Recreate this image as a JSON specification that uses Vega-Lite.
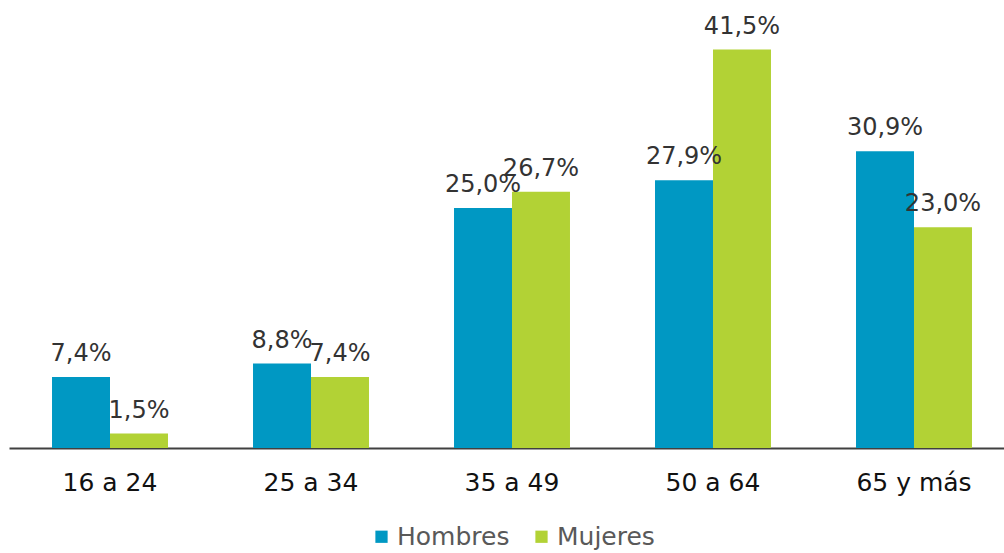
{
  "$schema": "https://vega.github.io/schema/vega-lite/v6.json",
  "autosize": {"type": "none"},
  "width": 995,
  "height": 432,
  "padding": {"left": 9, "top": 16, "right": 0, "bottom": 105},
  "background": "white",
  "config": {"view": {"stroke": null}, "font": "DejaVu Sans"},
  "data": {"values": [
    {"grupo": "16 a 24", "sexo": "Hombres", "valor": 7.4, "etiqueta": "7,4%"},
    {"grupo": "16 a 24", "sexo": "Mujeres", "valor": 1.5, "etiqueta": "1,5%"},
    {"grupo": "25 a 34", "sexo": "Hombres", "valor": 8.8, "etiqueta": "8,8%"},
    {"grupo": "25 a 34", "sexo": "Mujeres", "valor": 7.4, "etiqueta": "7,4%"},
    {"grupo": "35 a 49", "sexo": "Hombres", "valor": 25.0, "etiqueta": "25,0%"},
    {"grupo": "35 a 49", "sexo": "Mujeres", "valor": 26.7, "etiqueta": "26,7%"},
    {"grupo": "50 a 64", "sexo": "Hombres", "valor": 27.9, "etiqueta": "27,9%"},
    {"grupo": "50 a 64", "sexo": "Mujeres", "valor": 41.5, "etiqueta": "41,5%"},
    {"grupo": "65 y más", "sexo": "Hombres", "valor": 30.9, "etiqueta": "30,9%"},
    {"grupo": "65 y más", "sexo": "Mujeres", "valor": 23.0, "etiqueta": "23,0%"}
  ]},
  "encoding": {
    "x": {
      "field": "grupo", "type": "nominal", "sort": null,
      "scale": {"range": [0, 1006], "paddingInner": 0.423, "paddingOuter": 0.214},
      "axis": {
        "title": null, "labelAngle": 0, "ticks": false,
        "domainColor": "#404040", "domainWidth": 2,
        "labelFont": "DejaVu Sans", "labelFontSize": 25, "labelColor": "#111111",
        "labelPadding": 22
      }
    },
    "xOffset": {"field": "sexo", "type": "nominal", "scale": {"paddingInner": 0, "paddingOuter": 0}},
    "y": {
      "field": "valor", "type": "quantitative",
      "scale": {"domain": [0, 45], "nice": false},
      "axis": null
    }
  },
  "layer": [
    {
      "mark": {"type": "bar"},
      "encoding": {
        "color": {
          "field": "sexo", "type": "nominal",
          "scale": {"domain": ["Hombres", "Mujeres"], "range": ["#0098C3", "#B2D235"]},
          "legend": {
            "title": null, "orient": "none", "direction": "horizontal",
            "legendX": 360, "legendY": 508,
            "symbolType": "square", "symbolSize": 150, "symbolStrokeWidth": 0,
            "labelFont": "DejaVu Sans", "labelFontSize": 25, "labelColor": "#595959",
            "labelOffset": 3, "columnPadding": 19
          }
        }
      }
    },
    {
      "mark": {"type": "text", "baseline": "bottom", "dy": -11, "fontSize": 24, "color": "#333333", "font": "DejaVu Sans"},
      "encoding": {"text": {"field": "etiqueta"}}
    }
  ]
}
